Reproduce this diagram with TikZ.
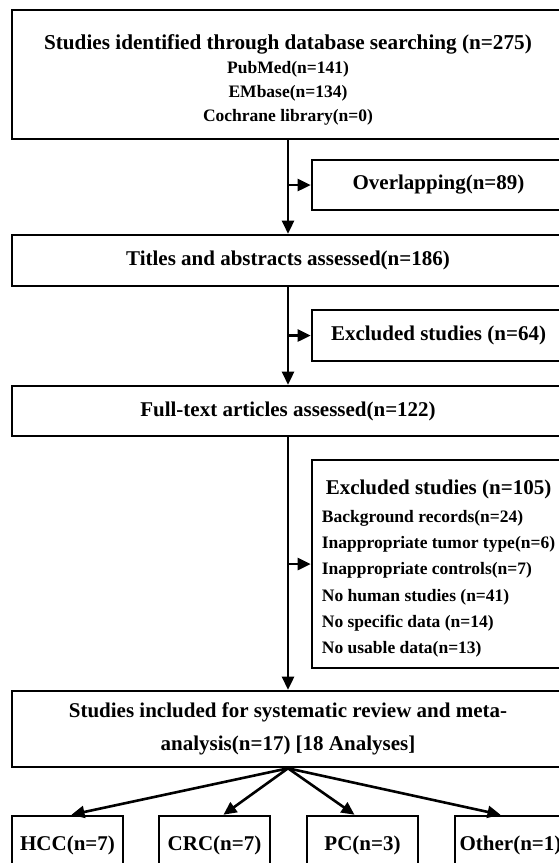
\documentclass[tikz,border=0pt]{standalone}
\usepackage{fontspec}
\setmainfont{Liberation Serif}
\usepackage{tikz}
\usetikzlibrary{arrows.meta, positioning}

\begin{document}
\begin{tikzpicture} [black, on grid, font=\bfseries\fontsize{21}{24}\selectfont,
	box/.style = {draw, line width = 2.6pt, inner sep = 0pt, align = center},
	mainbox/.style = {box, minimum width = 552pt},
	sidebox/.style = {box, minimum width = 253pt},
	leafbox/.style = {box, minimum width = 111pt, minimum height = 58pt},
	flow/.style = {-{Triangle[length = 13pt, width = 12pt]}, line width = 2.6pt}]
			% Page size : the boxes run over the right and bottom edges
			\useasboundingbox (0,0) rectangle (559pt,-863pt);
			% Start Node : Every other node is measured based to this one
			\node (search) [mainbox, minimum height = 129pt, font = \bfseries\fontsize{17.5}{24}\selectfont] at (288pt,-74.5pt)
			{{\fontsize{21.2}{24}\selectfont\rule{0pt}{26pt}Studies identified through database searching (n=275)}\\
			PubMed(n=141)\\ EMbase(n=134)\\ Cochrane library(n=0)};

			\node (overlap) [sidebox, minimum height = 50pt, below right = 110.5pt and 150.5pt of search]
			{Overlapping(n=89)};

			\node (titles) [mainbox, minimum height = 51pt, below = 186pt of search]
			{Titles and abstracts assessed(n=186)};

			\node (excl1) [sidebox, minimum height = 51pt, below right = 75pt and 150.5pt of titles]
			{Excluded studies (n=64)};

			\node (fulltext) [mainbox, minimum height = 50pt, below = 150.5pt of titles]
			{Full-text articles assessed(n=122)};

			\node (excl2) [sidebox, minimum height = 208pt, below right = 153pt and 150.5pt of fulltext,
			font = \bfseries\fontsize{17.5}{26.3}\selectfont]
			{{\fontsize{21}{29}\selectfont\rule{0pt}{28pt}Excluded studies (n=105)}\\[4pt]
			\begin{tabular}{@{}l@{}}
			Background records(n=24)\\
			Inappropriate tumor type(n=6)\\
			Inappropriate controls(n=7)\\
			No human studies (n=41)\\
			No specific data (n=14)\\
			No usable data(n=13)
			\end{tabular}};

			% End Node
			\node (included) [mainbox, minimum height = 76pt, below = 318pt of fulltext,
			font = \bfseries\fontsize{21}{33}\selectfont]
			{Studies included for systematic review and meta-\\ analysis(n=17) [18 Analyses]};

			% Tumor types
			\node (hcc) [leafbox, below left = 116pt and 220.5pt of included] {HCC(n=7)};
			\node (crc) [leafbox, below left = 116pt and 73.5pt of included] {CRC(n=7)};
			\node (pc) [leafbox, below right = 116pt and 74.5pt of included] {PC(n=3)};
			\node (other) [leafbox, below right = 116pt and 222.5pt of included] {Other(n=1)};

			% Draw Arrows/Connections
			\path [flow]
			(search) edge (titles)
			(search.south |- overlap) edge (overlap)
			(titles) edge (fulltext)
			(titles.south |- excl1) edge (excl1)
			(fulltext) edge (included)
			(fulltext.south |- excl2) edge (excl2)
			% fan out to the tumor types
			(included.south) edge ([xshift = 4pt]hcc.north)
			(included.south) edge ([xshift = 9pt]crc.north)
			(included.south) edge ([xshift = -8pt]pc.north)
			(included.south) edge ([xshift = -10pt]other.north);
		\end{tikzpicture}
\end{document}
